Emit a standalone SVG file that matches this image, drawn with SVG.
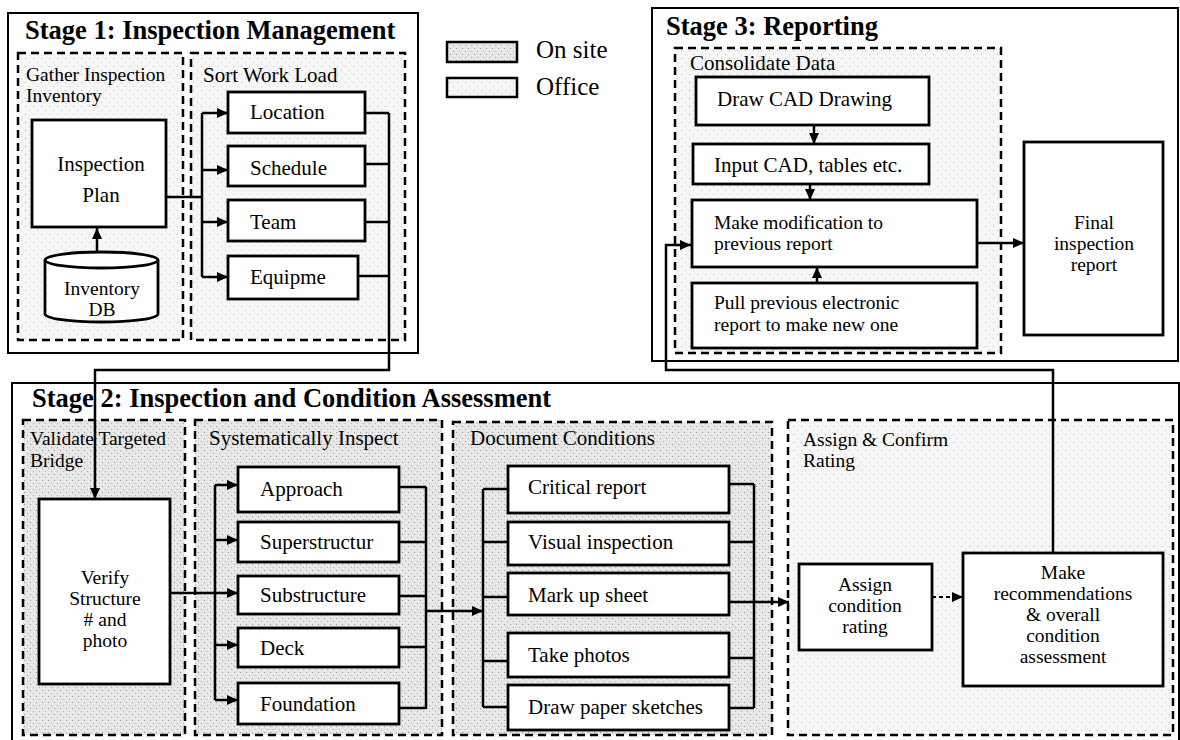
<svg xmlns="http://www.w3.org/2000/svg" width="1180" height="740" viewBox="0 0 1180 740">
<style>
text{font-family:"Liberation Serif","Times New Roman",serif;font-size:21px;fill:#000}
.m{font-size:19.5px}
.title{font-size:26.5px;font-weight:bold}
.leg{font-size:25px}
.c{text-anchor:middle}
.outer{fill:#fff;stroke:#000;stroke-width:2}
.dash{stroke:#000;stroke-width:2.5;stroke-dasharray:8 5}
.onsite{fill:url(#pOn)}
.office{fill:url(#pOff)}
.box{fill:#fff;stroke:#000;stroke-width:2.8}
.cn{fill:none;stroke:#000;stroke-width:2.5}
.arr{marker-end:url(#ah)}
</style>
<defs>
<pattern id="pOn" width="6" height="6" patternUnits="userSpaceOnUse">
<rect width="6" height="6" fill="#e6e6e6"/>
<rect x="0" y="0" width="1" height="1" fill="#9a9a9a"/>
<rect x="3" y="3" width="1" height="1" fill="#b0b0b0"/>
<rect x="4" y="1" width="1" height="1" fill="#fafafa"/>
<rect x="1" y="4" width="1" height="1" fill="#fafafa"/>
</pattern>
<pattern id="pOff" width="8" height="8" patternUnits="userSpaceOnUse">
<rect width="8" height="8" fill="#f6f6f6"/>
<rect x="1" y="2" width="1" height="1" fill="#bdbdbd"/>
<rect x="5" y="6" width="1" height="1" fill="#cccccc"/>
</pattern>
<marker id="ah" markerUnits="userSpaceOnUse" markerWidth="12" markerHeight="10" refX="11" refY="5" orient="auto">
<path d="M0,0 L11,5 L0,10 z" fill="#000"/>
</marker>
</defs>

<!-- Stage frames -->
<g id="stage1">
<rect class="outer" x="8" y="13" width="410" height="340"/>
<text class="title" x="25" y="39">Stage 1: Inspection Management</text>
<rect class="dash office" x="18" y="53" width="165" height="287"/>
<text class="m" x="26" y="81">Gather Inspection</text>
<text class="m" x="26" y="102">Inventory</text>
<rect class="dash office" x="191" y="53" width="214" height="287"/>
<text x="203" y="82">Sort Work Load</text>
</g>

<g id="stage3">
<rect class="outer" x="652" y="8" width="526" height="353"/>
<text class="title" x="666" y="35">Stage 3: Reporting</text>
<rect class="dash office" x="675" y="48" width="326" height="305"/>
<text x="690" y="70">Consolidate Data</text>
</g>

<g id="stage2">
<rect class="outer" x="12" y="383" width="1167" height="370"/>
<text class="title" x="32" y="407">Stage 2: Inspection and Condition Assessment</text>
<rect class="dash onsite" x="23" y="420" width="162" height="315"/>
<text class="m" x="30" y="445">Validate Targeted</text>
<text class="m" x="30" y="467">Bridge</text>
<rect class="dash onsite" x="195" y="420" width="247" height="315"/>
<text x="209" y="445">Systematically Inspect</text>
<rect class="dash onsite" x="453" y="422" width="319" height="313"/>
<text x="470" y="445">Document Conditions</text>
<rect class="dash office" x="788" y="420" width="385" height="315"/>
<text class="m" x="803" y="446">Assign &amp; Confirm</text>
<text class="m" x="803" y="467">Rating</text>
</g>

<g id="legend">
<rect x="447" y="42" width="70" height="20" fill="url(#pOn)" stroke="#000" stroke-width="2.5"/>
<text class="leg" x="536" y="58">On site</text>
<rect x="447" y="78" width="70" height="19" fill="url(#pOff)" stroke="#000" stroke-width="2.5"/>
<text class="leg" x="536" y="95">Office</text>
</g>

<!-- Connectors -->
<g id="connectors">
<!-- Stage 1 -->
<path class="cn arr" d="M97,252 V228"/>
<path class="cn" d="M166,197 H202 M202,113 V277"/>
<path class="cn arr" d="M202,113 H228"/>
<path class="cn arr" d="M202,170 H228"/>
<path class="cn arr" d="M202,222 H228"/>
<path class="cn arr" d="M202,277 H228"/>
<path class="cn" d="M365,113 H389 M365,164 H389 M365,222 H389 M358,276 H389"/>
<path class="cn arr" d="M389,113 V370 H95 V499"/>
<!-- Stage 2: validate -> inspect -->
<path class="cn arr" d="M170,593 H238"/>
<path class="cn" d="M215,485 V700"/>
<path class="cn arr" d="M215,485 H238"/>
<path class="cn arr" d="M215,540 H238"/>
<path class="cn arr" d="M215,645 H238"/>
<path class="cn arr" d="M215,700 H238"/>
<path class="cn" d="M399,487 H426 M399,542 H426 M399,596 H426 M399,647 H426 M399,708 H426 M426,487 V709"/>
<path class="cn arr" d="M426,611 H483"/>
<!-- Document -->
<path class="cn" d="M483,489 V707 M483,489 H508 M483,542 H508 M483,597 H508 M483,661 H508 M483,707 H508"/>
<path class="cn" d="M729,484 H754 M729,542 H754 M729,602 H754 M729,658 H754 M729,708 H754 M754,484 V708"/>
<path class="cn arr" d="M754,602 H789"/>
<!-- Assign -->
<path class="arr" d="M932,597 H963" fill="none" stroke="#000" stroke-width="2" stroke-dasharray="4 3"/>
<!-- feedback -->
<path class="cn arr" d="M1053,553 V370 H666 V245 H691"/>
<!-- Stage 3 -->
<path class="cn arr" d="M814,125 V144"/>
<path class="cn arr" d="M810,184 V200"/>
<path class="cn arr" d="M817,283 V267"/>
<path class="cn arr" d="M977,243 H1024"/>
</g>

<!-- Nodes -->
<g id="inspection-plan">
<rect class="box" x="32" y="120" width="134" height="107"/>
<text class="c" x="101" y="171">Inspection</text>
<text class="c" x="101" y="202">Plan</text>
</g>
<g id="inventory-db">
<path d="M45,260 V314 A56.5,8 0 0 0 158,314 V260" fill="#fff" stroke="#000" stroke-width="2.8"/>
<ellipse cx="101.5" cy="260" rx="56.5" ry="8" fill="#fff" stroke="#000" stroke-width="2.8"/>
<text class="c m" x="102" y="295">Inventory</text>
<text class="c m" x="102" y="316">DB</text>
</g>
<g id="location"><rect class="box" x="228" y="92" width="137" height="41"/><text x="250" y="119">Location</text></g>
<g id="schedule"><rect class="box" x="228" y="146" width="137" height="40"/><text x="250" y="175">Schedule</text></g>
<g id="team"><rect class="box" x="228" y="200" width="137" height="41"/><text x="250" y="229">Team</text></g>
<g id="equipme"><rect class="box" x="228" y="256" width="130" height="43"/><text x="250" y="284">Equipme</text></g>

<g id="draw-cad"><rect class="box" x="696" y="77" width="233" height="48"/><text x="717" y="106">Draw CAD Drawing</text></g>
<g id="input-cad"><rect class="box" x="693" y="144" width="236" height="40"/><text x="714" y="172">Input CAD, tables etc.</text></g>
<g id="make-modification"><rect class="box" x="692" y="200" width="285" height="67"/><text class="m" x="714" y="229">Make modification to</text><text class="m" x="714" y="250">previous report</text></g>
<g id="pull-previous"><rect class="box" x="692" y="283" width="285" height="65"/><text class="m" x="714" y="309">Pull previous electronic</text><text class="m" x="714" y="331">report to make new one</text></g>
<g id="final-report"><rect class="box" x="1024" y="142" width="139" height="193"/>
<text class="c m" x="1094" y="229">Final</text><text class="c m" x="1094" y="250">inspection</text><text class="c m" x="1094" y="271">report</text></g>

<g id="verify"><rect class="box" x="39" y="499" width="131" height="185"/>
<text class="c m" x="105" y="584">Verify</text><text class="c m" x="105" y="605">Structure</text><text class="c m" x="105" y="626"># and</text><text class="c m" x="105" y="647">photo</text></g>

<g id="approach"><rect class="box" x="238" y="467" width="161" height="45"/><text x="260" y="496">Approach</text></g>
<g id="superstructur"><rect class="box" x="238" y="522" width="161" height="40"/><text x="260" y="549">Superstructur</text></g>
<g id="substructure"><rect class="box" x="238" y="576" width="161" height="38"/><text x="260" y="602">Substructure</text></g>
<g id="deck"><rect class="box" x="238" y="628" width="161" height="39"/><text x="260" y="655">Deck</text></g>
<g id="foundation"><rect class="box" x="238" y="683" width="161" height="41"/><text x="260" y="711">Foundation</text></g>

<g id="critical-report"><rect class="box" x="508" y="466" width="221" height="47"/><text x="528" y="494">Critical report</text></g>
<g id="visual-inspection"><rect class="box" x="508" y="522" width="221" height="43"/><text x="528" y="549">Visual inspection</text></g>
<g id="mark-up-sheet"><rect class="box" x="508" y="573" width="221" height="42"/><text x="528" y="602">Mark up sheet</text></g>
<g id="take-photos"><rect class="box" x="508" y="633" width="221" height="44"/><text x="528" y="662">Take photos</text></g>
<g id="draw-paper-sketches"><rect class="box" x="508" y="685" width="221" height="45"/><text x="528" y="714">Draw paper sketches</text></g>

<g id="assign-rating"><rect class="box" x="799" y="564" width="133" height="86"/>
<text class="c m" x="865" y="591">Assign</text><text class="c m" x="865" y="612">condition</text><text class="c m" x="865" y="633">rating</text></g>
<g id="make-recommendations"><rect class="box" x="963" y="553" width="200" height="133"/>
<text class="c m" x="1063" y="579">Make</text><text class="c m" x="1063" y="600">recommendations</text><text class="c m" x="1063" y="621">&amp; overall</text><text class="c m" x="1063" y="642">condition</text><text class="c m" x="1063" y="663">assessment</text></g>
</svg>
